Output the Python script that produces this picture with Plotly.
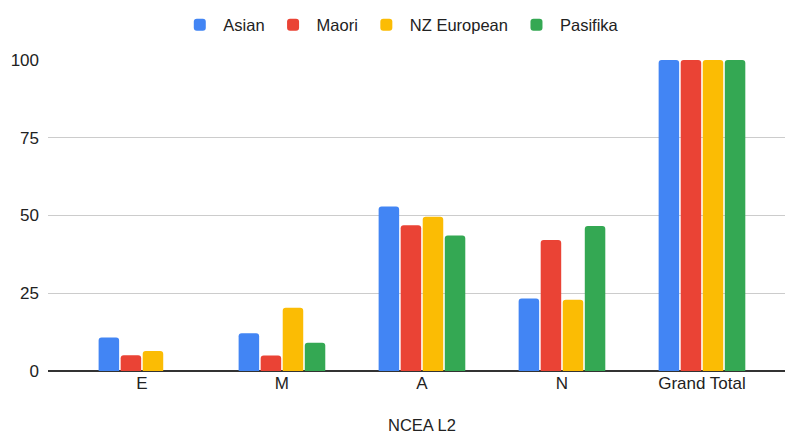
import plotly.graph_objects as go

# NCEA Level 2 results by ethnicity (percent of each group)
categories = ["E", "M", "A", "N", "Grand Total"]
asian = [10.8, 12.1, 52.9, 23.3, 100]
maori = [5.1, 5.0, 46.9, 42.1, 100]
nz_european = [6.4, 20.3, 49.6, 22.9, 100]
pasifika = [0, 9.1, 43.6, 46.6, 100]

series = [
    ("Asian", asian, "#4285F4"),
    ("Maori", maori, "#EA4335"),
    ("NZ European", nz_european, "#FBBC04"),
    ("Pasifika", pasifika, "#34A853"),
]

font_family = "Liberation Sans, Arial, sans-serif"
text_color = "#222222"

fig = go.Figure()
for name, values, color in series:
    fig.add_trace(go.Bar(
        name=name,
        x=categories,
        y=values,
        marker=dict(color=color, cornerradius=3, line=dict(width=0)),
    ))

fig.update_layout(
    width=785,
    height=435,
    margin=dict(l=48, r=0, t=60, b=64),
    paper_bgcolor="white",
    plot_bgcolor="white",
    barmode="group",
    bargap=0.37,
    bargroupgap=0.07,
    font=dict(family=font_family, size=17, color=text_color),
    showlegend=True,
    legend=dict(
        orientation="h",
        x=0.478,
        xanchor="center",
        y=(371 - 25) / 311,
        yanchor="middle",
        font=dict(size=16.5, color=text_color),
        itemwidth=37,
    ),
    xaxis=dict(
        range=[-0.671, 4.593],
        showgrid=False,
        showline=False,
        ticks="",
        tickfont=dict(size=17, color=text_color),
        fixedrange=True,
    ),
    yaxis=dict(
        range=[0, 100],
        tickvals=[0, 25, 50, 75, 100],
        showgrid=True,
        gridcolor="#CCCCCC",
        gridwidth=1,
        zeroline=True,
        zerolinecolor="#333333",
        zerolinewidth=1.5,
        showline=False,
        ticks="",
        ticklabelstandoff=8,
        tickfont=dict(size=17, color=text_color),
        fixedrange=True,
    ),
    annotations=[
        dict(
            text="NCEA L2",
            xref="paper", yref="paper",
            x=(422 - 48) / 737, y=0,
            xanchor="center", yanchor="middle",
            yshift=-54,
            showarrow=False,
            font=dict(size=16.5, color=text_color),
        )
    ],
)

fig.write_html("out.html")
